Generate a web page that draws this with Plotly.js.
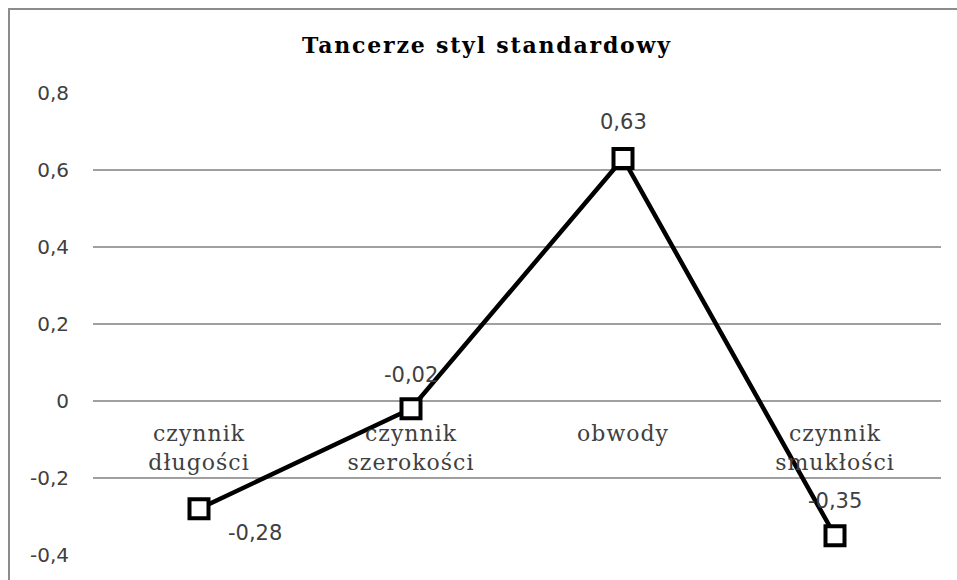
<!DOCTYPE html>
<html>
<head>
<meta charset="utf-8">
<script src="https://cdn.plot.ly/plotly-3.0.1.min.js"></script>
<style>
  html, body { margin: 0; padding: 0; background: #fff; }
  #chart { width: 957px; height: 580px; }
  #chart .gtitle { letter-spacing: 1.8px; }
  #chart .xtick text { letter-spacing: 1px; }
</style>
</head>
<body>
<div id="chart"></div>
<script>
// ---- data ----
const categories = ["czynnik<br>długości", "czynnik<br>szerokości", "obwody", "czynnik<br>smukłości"];
const values = [-0.28, -0.02, 0.63, -0.35];
const yTickVals = [0.8, 0.6, 0.4, 0.2, 0, -0.2, -0.4];
const yTickText = ["0,8", "0,6", "0,4", "0,2", "0", "-0,2", "-0,4"];
const chartTitle = "Tancerze styl standardowy";

// label offsets (style only)
const labelShift = [
  {x: 56, y: -24},
  {x: 0, y: 34},
  {x: 0, y: 36},
  {x: 0, y: 35}
];

const W = 957, H = 580;
const margin = {l: 93, r: 16, t: 93, b: 25};
const pw = W - margin.l - margin.r, ph = H - margin.t - margin.b;
const yMin = -0.4, yMax = 0.8;

const trace = {
  type: "scatter",
  mode: "lines+markers",
  x: categories,
  y: values,
  line: {color: "#000000", width: 4.5},
  marker: {symbol: "square", size: 19, color: "#ffffff", line: {color: "#000000", width: 4}},
  hoverinfo: "skip",
  cliponaxis: false
};

const annotations = values.map((v, i) => ({
  x: categories[i], y: v, xref: "x", yref: "y",
  text: v.toFixed(2).replace(".", ","),
  showarrow: false,
  xshift: labelShift[i].x, yshift: labelShift[i].y,
  xanchor: "center", yanchor: "middle",
  font: {family: "DejaVu Sans", size: 21, color: "#404040"}
}));

const layout = {
  width: W, height: H,
  margin: margin,
  paper_bgcolor: "#ffffff",
  plot_bgcolor: "#ffffff",
  showlegend: false,
  title: {
    text: "<b>" + chartTitle + "</b>",
    x: 487 / W, xref: "container", xanchor: "center",
    y: 1 - 45 / H, yref: "container", yanchor: "middle",
    font: {family: "DejaVu Serif", size: 22, color: "#000000"}
  },
  xaxis: {
    type: "category",
    range: [-0.5, 3.5],
    anchor: "free",
    position: (0 - yMin) / (yMax - yMin),
    showgrid: false, zeroline: false, showline: false,
    ticks: "", ticklabelstandoff: 17,
    tickfont: {family: "DejaVu Serif", size: 22, color: "#404040"},
    fixedrange: true
  },
  yaxis: {
    range: [yMin, yMax],
    tickvals: yTickVals,
    ticktext: yTickText,
    showgrid: true, gridcolor: "#a0a0a0", gridwidth: 1.3,
    zeroline: false, showline: false,
    ticks: "", ticklabelstandoff: 23,
    tickfont: {family: "DejaVu Sans", size: 20, color: "#404040"},
    fixedrange: true
  },
  shapes: [{
    type: "rect", xref: "paper", yref: "paper",
    x0: (9 - margin.l) / pw, x1: (1100 - margin.l) / pw,
    y0: -(700 - (H - margin.b)) / ph, y1: ((H - margin.b) - 9) / ph,
    line: {color: "#8c8c8c", width: 2},
    fillcolor: "rgba(0,0,0,0)", layer: "below"
  }],
  annotations: annotations
};

Plotly.newPlot("chart", [trace], layout, {displayModeBar: false, staticPlot: true});
</script>
</body>
</html>
